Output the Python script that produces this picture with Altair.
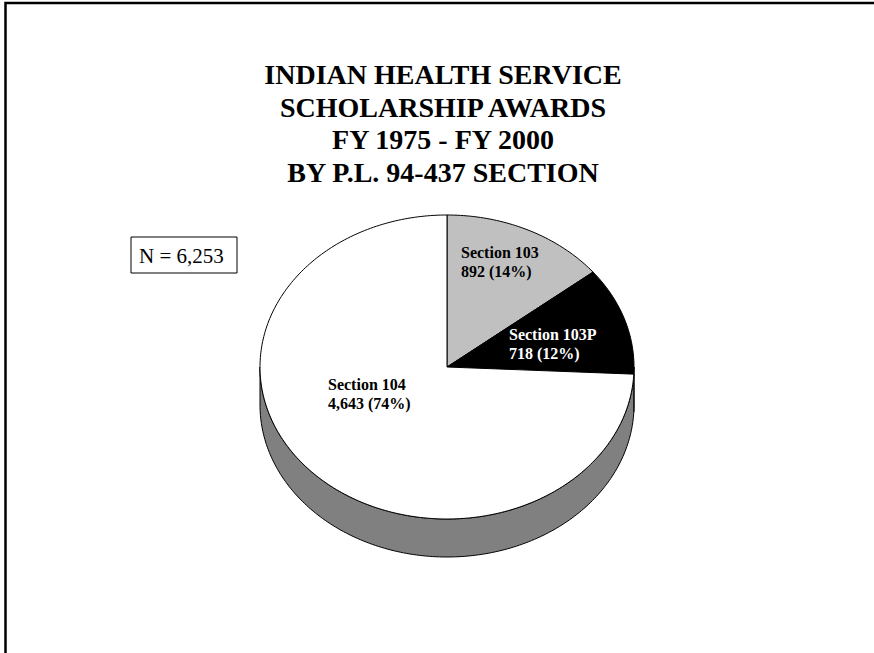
import altair as alt
import numpy as np
import pandas as pd

# ---- data ----
sections = ["Section 103", "Section 103P", "Section 104"]
awards = [892, 718, 4643]
value_labels = ["892 (14%)", "718  (12%)", "4,643 (74%)"]
top_colors = ["#c0c0c0", "#000000", "#ffffff"]
side_colors = ["#606060", "#000000", "#808080"]
label_colors = ["#000000", "#ffffff", "#000000"]
title_lines = ["INDIAN HEALTH SERVICE", "SCHOLARSHIP AWARDS", "FY 1975 - FY 2000", "BY P.L. 94-437 SECTION"]
total_label = "N = 6,253"

# ---- layout / style ----
W, H = 874, 653
CX, CY = 447, 367          # pie centre in pixels
RX, RY, DEPTH = 187, 152, 38
label_dx = [14, 62, -119]
label_dy = [109, 27, -23]
FONT = "Liberation Serif"

total = sum(awards)
bounds = np.concatenate([[0.0], np.cumsum(awards)]) / total * 360.0

top_rows, side_rows = [], []
for k, name in enumerate(sections):
    a0, a1 = bounds[k], bounds[k + 1]
    n = max(int((a1 - a0) / 1.0), 3)
    th = np.radians(np.linspace(a0, a1, n))
    pts = [(0.0, 0.0)] + list(zip(RX * np.sin(th), RY * np.cos(th))) + [(0.0, 0.0)]
    for i, (x, y) in enumerate(pts):
        top_rows.append(dict(shape=name, i=i, x=x, y=y, fillc=top_colors[k]))
    s0, s1 = max(a0, 90.0), min(a1, 270.0)
    if s1 > s0:
        m = max(int((s1 - s0) / 1.0), 3)
        ts = np.radians(np.linspace(s0, s1, m))
        upper = list(zip(RX * np.sin(ts), RY * np.cos(ts)))
        lower = [(x, y - DEPTH) for x, y in upper[::-1]]
        poly = upper + lower + [upper[0]]
        for i, (x, y) in enumerate(poly):
            side_rows.append(dict(shape=name + " side", i=i, x=x, y=y, fillc=side_colors[k]))

top_df = pd.DataFrame(top_rows)
side_df = pd.DataFrame(side_rows)
lab_df = pd.DataFrame({
    "text": [s + "\n" + v for s, v in zip(sections, value_labels)],
    "x": label_dx, "y": label_dy, "c": label_colors,
})

xs = alt.Scale(domain=[-CX, W - CX], nice=False, zero=False)
ys = alt.Scale(domain=[-(H - CY), CY], nice=False, zero=False)

def poly_layer(df):
    return alt.Chart(df).mark_line(stroke="#000000", strokeWidth=1, strokeJoin="round").encode(
        x=alt.X("x:Q", scale=xs, axis=None),
        y=alt.Y("y:Q", scale=ys, axis=None),
        detail="shape:N",
        order=alt.Order("i:Q"),
        fill=alt.Fill("fillc:N", scale=None, legend=None),
    )

sides = poly_layer(side_df)
tops = poly_layer(top_df)

labels = alt.Chart(lab_df).mark_text(
    font=FONT, fontSize=16, fontWeight="bold", align="left", baseline="alphabetic",
    lineBreak="\n", lineHeight=19,
).encode(
    x=alt.X("x:Q", scale=xs, axis=None),
    y=alt.Y("y:Q", scale=ys, axis=None),
    text="text:N",
    color=alt.Color("c:N", scale=None, legend=None),
)

title = alt.Chart(pd.DataFrame({"t": ["\n".join(title_lines)]})).mark_text(
    font=FONT, fontSize=28, fontWeight="bold", align="center", baseline="alphabetic",
    lineBreak="\n", lineHeight=32.5, color="#000000",
).encode(x=alt.value(443), y=alt.value(84), text="t:N")

nbox = alt.Chart(pd.DataFrame({"a": [0]})).mark_rect(
    fill="#ffffff", stroke="#000000", strokeWidth=1
).encode(x=alt.value(131), x2=alt.value(237), y=alt.value(237), y2=alt.value(273))

ntext = alt.Chart(pd.DataFrame({"t": [total_label]})).mark_text(
    font=FONT, fontSize=21, align="left", baseline="alphabetic", color="#000000"
).encode(x=alt.value(139), y=alt.value(263), text="t:N")

frame = alt.Chart(pd.DataFrame({"a": [0]})).mark_rect(
    fill="transparent", stroke="#000000", strokeWidth=2.5
).encode(x=alt.value(5.5), x2=alt.value(950), y=alt.value(3), y2=alt.value(750))

chart = alt.layer(frame, sides, tops, labels, title, nbox, ntext).properties(
    width=W, height=H, padding=0, autosize=alt.AutoSizeParams(type="none"),
    background="#ffffff",
).configure_view(stroke=None)

chart.save("out.html", embed_options={"renderer": "svg", "actions": False})
